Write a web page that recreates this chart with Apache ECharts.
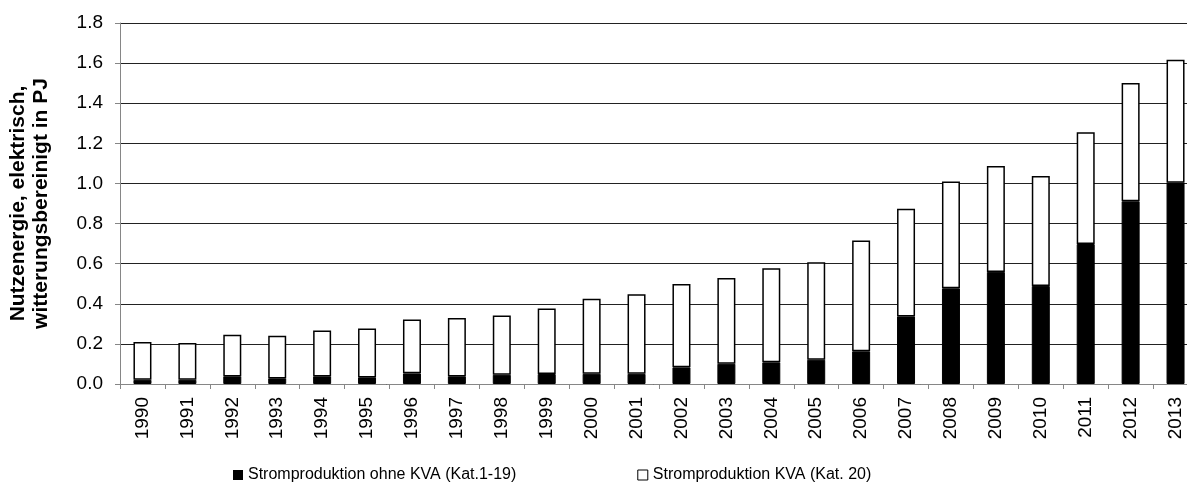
<!DOCTYPE html>
<html>
<head>
<meta charset="utf-8">
<script src="https://cdn.jsdelivr.net/npm/echarts@6/dist/echarts.min.js"></script>
<style>
  html, body { margin: 0; padding: 0; background: #fff; }
  #chart { width: 1187px; height: 497px; }
</style>
</head>
<body>
<div id="chart"></div>
<script>
// Jahre
const years = ['1990', '1991', '1992', '1993', '1994', '1995', '1996', '1997', '1998', '1999', '2000', '2001',
  '2002', '2003', '2004', '2005', '2006', '2007', '2008', '2009', '2010', '2011', '2012', '2013'];

// Stromproduktion ohne KVA (Kat.1-19), PJ
const ohneKva = [0.021, 0.021, 0.038, 0.028, 0.038, 0.033, 0.053, 0.038, 0.046, 0.050, 0.051, 0.051,
  0.083, 0.101, 0.108, 0.121, 0.163, 0.337, 0.477, 0.559, 0.489, 0.698, 0.911, 1.004];

// Stromproduktion KVA (Kat. 20), PJ
const kva = [0.188, 0.183, 0.208, 0.213, 0.229, 0.244, 0.268, 0.291, 0.296, 0.326, 0.374, 0.396,
  0.416, 0.428, 0.469, 0.486, 0.552, 0.537, 0.533, 0.528, 0.548, 0.557, 0.590, 0.613];

const seriesNames = ['Stromproduktion ohne KVA (Kat.1-19)', 'Stromproduktion KVA (Kat. 20)'];
const yTicks = { min: 0, max: 1.8, interval: 0.2 };

const font = 'Liberation Sans, Arial, sans-serif';

const chart = echarts.init(document.getElementById('chart'));

chart.setOption({
  animation: false,
  textStyle: { fontFamily: font, color: '#000' },
  grid: {
    left: 120,
    top: 23,
    width: 1078,
    height: 361,
    containLabel: false,
    outerBoundsMode: 'none'
  },
  legend: {
    left: 228,
    top: 462,
    itemWidth: 10,
    itemHeight: 10,
    itemGap: 121,
    textStyle: { fontSize: 16, color: '#000', fontFamily: font },
    data: [
      { name: seriesNames[0], icon: 'rect', itemStyle: { color: '#000', borderWidth: 0 } },
      { name: seriesNames[1], icon: 'rect', itemStyle: { color: '#fff', borderColor: '#000', borderWidth: 1 } }
    ]
  },
  xAxis: {
    type: 'category',
    data: years,
    axisLine: { show: true, lineStyle: { color: '#868686', width: 1 } },
    axisTick: { show: true, length: 5, alignWithLabel: false, lineStyle: { color: '#868686' } },
    axisLabel: { rotate: 90, fontSize: 19, margin: 13, color: '#000', fontFamily: font },
    splitLine: { show: false }
  },
  yAxis: {
    type: 'value',
    min: yTicks.min,
    max: yTicks.max,
    interval: yTicks.interval,
    name: 'Nutzenergie, elektrisch,\nwitterungsbereinigt in PJ',
    nameLocation: 'middle',
    nameGap: 67,
    nameTextStyle: { fontSize: 21, fontWeight: 'bold', lineHeight: 23, color: '#000', fontFamily: font },
    axisLine: { show: true, lineStyle: { color: '#868686', width: 1 } },
    axisTick: { show: true, length: 5, inside: false, lineStyle: { color: '#868686' } },
    axisLabel: {
      fontSize: 19,
      margin: 17,
      color: '#000',
      fontFamily: font,
      formatter: function (v) { return v.toFixed(1); }
    },
    splitLine: { show: true, lineStyle: { color: '#222', width: 1 } }
  },
  series: [
    {
      name: seriesNames[0],
      type: 'bar',
      stack: 'total',
      data: ohneKva,
      barWidth: 18,
      itemStyle: { color: '#000', borderColor: '#000', borderWidth: 1 }
    },
    {
      name: seriesNames[1],
      type: 'bar',
      stack: 'total',
      data: kva,
      barWidth: 18,
      itemStyle: { color: '#fff', borderColor: '#000', borderWidth: 1.5 }
    }
  ]
});
</script>
</body>
</html>
